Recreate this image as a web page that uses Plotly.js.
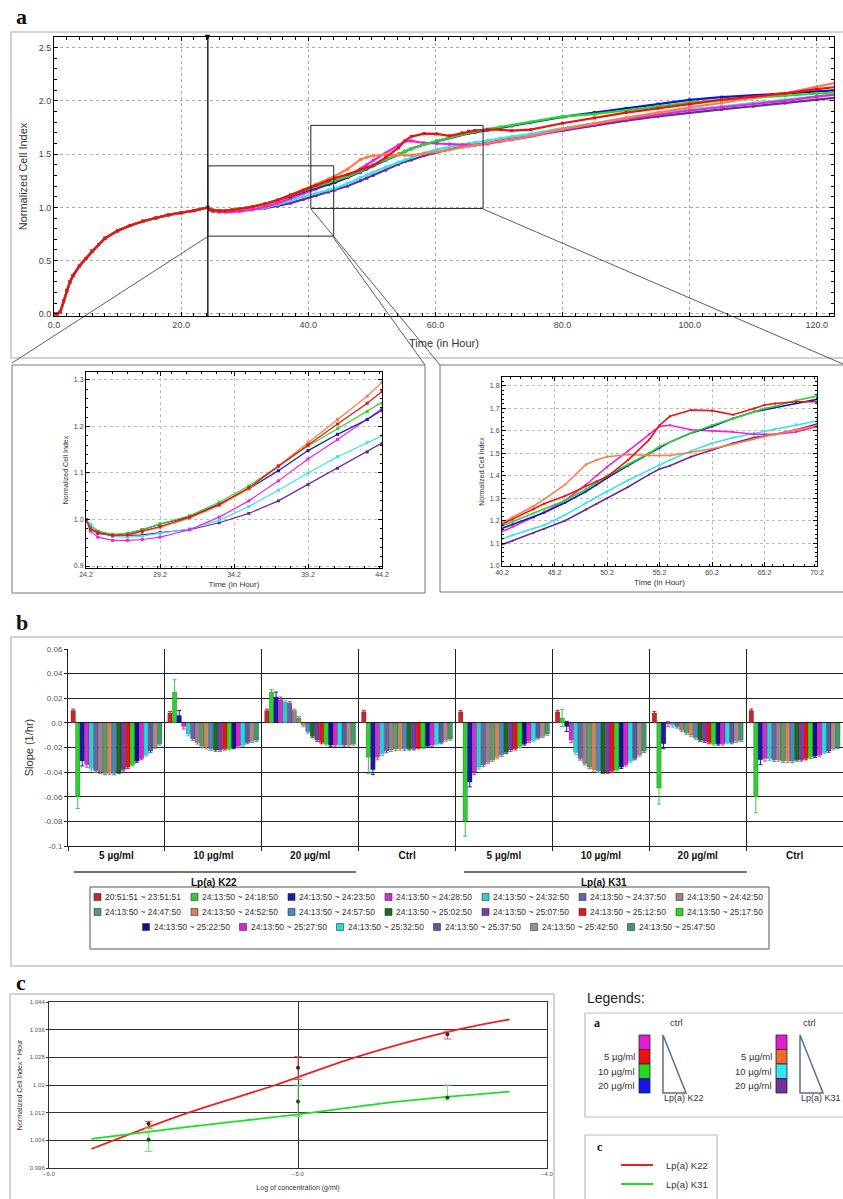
<!DOCTYPE html>
<html><head><meta charset="utf-8">
<script src="https://cdn.plot.ly/plotly-3.0.1.min.js"></script>
<style>html,body{margin:0;padding:0;background:#fff;overflow:hidden}</style>
</head><body>
<div id="chart" style="width:843px;height:1199px"></div>
<script>
// ================= Panel a : normalized cell index =================
const preTime = [0, 0.5, 1, 1.5, 2, 2.5, 3, 4, 5, 6, 7, 8, 10, 12, 14, 16, 18, 20, 22, 24.2];
const preCI   = [0, 0, 0.02, 0.12, 0.22, 0.30, 0.36, 0.45, 0.52, 0.59, 0.65, 0.71, 0.78, 0.83, 0.87, 0.90, 0.93, 0.95, 0.97, 1.0];
const postTime = [24.5, 25, 26, 27, 28, 29.2, 31.2, 33.2, 35.2, 37.2, 39.2, 41.2, 43.2, 44.2, 46.2, 48.2, 49.2, 50.2, 52.2, 54.2, 55.2, 56.2, 58.2, 60.2, 62.2, 64.2, 65.2, 66.2, 68.2, 70.2, 72, 75, 80, 85, 90, 95, 100, 105, 110, 115, 120, 123];
const ciK22_5  = [0.98, 0.972, 0.966, 0.967, 0.975, 0.985, 1.005, 1.032, 1.068, 1.115, 1.16, 1.205, 1.25, 1.275, 1.31, 1.355, 1.375, 1.395, 1.47, 1.56, 1.625, 1.665, 1.693, 1.69, 1.672, 1.70, 1.715, 1.722, 1.73, 1.73, 1.72, 1.73, 1.79, 1.84, 1.89, 1.93, 1.97, 2.01, 2.04, 2.07, 2.11, 2.13];
const ciK31_5  = [0.98, 0.972, 0.966, 0.967, 0.974, 0.983, 1.003, 1.03, 1.066, 1.115, 1.165, 1.215, 1.265, 1.295, 1.36, 1.45, 1.47, 1.485, 1.495, 1.49, 1.49, 1.49, 1.505, 1.52, 1.54, 1.565, 1.575, 1.585, 1.605, 1.625, 1.64, 1.67, 1.735, 1.79, 1.84, 1.89, 1.94, 1.98, 2.03, 2.07, 2.13, 2.17];
const ciK22_10 = [0.985, 0.975, 0.968, 0.97, 0.978, 0.99, 1.008, 1.037, 1.072, 1.115, 1.158, 1.195, 1.232, 1.25, 1.29, 1.34, 1.37, 1.40, 1.45, 1.50, 1.53, 1.55, 1.59, 1.625, 1.655, 1.685, 1.70, 1.71, 1.735, 1.755, 1.77, 1.80, 1.855, 1.875, 1.91, 1.95, 1.985, 2.01, 2.03, 2.05, 2.07, 2.08];
const ciK22_20 = [0.98, 0.972, 0.966, 0.97, 0.978, 0.99, 1.006, 1.033, 1.066, 1.105, 1.148, 1.183, 1.215, 1.235, 1.28, 1.33, 1.36, 1.39, 1.445, 1.50, 1.525, 1.55, 1.59, 1.62, 1.655, 1.685, 1.695, 1.705, 1.725, 1.745, 1.765, 1.795, 1.85, 1.89, 1.93, 1.97, 2.01, 2.035, 2.05, 2.07, 2.09, 2.10];
const ciCtrl   = [0.975, 0.962, 0.955, 0.955, 0.957, 0.962, 0.978, 1.005, 1.04, 1.083, 1.13, 1.172, 1.215, 1.238, 1.29, 1.36, 1.40, 1.44, 1.51, 1.585, 1.62, 1.625, 1.605, 1.60, 1.595, 1.585, 1.585, 1.585, 1.595, 1.62, 1.635, 1.665, 1.73, 1.78, 1.83, 1.87, 1.91, 1.94, 1.97, 2.00, 2.04, 2.06];
const ciK31_10 = [0.99, 0.975, 0.963, 0.962, 0.964, 0.970, 0.98, 0.998, 1.028, 1.063, 1.10, 1.135, 1.165, 1.18, 1.225, 1.28, 1.305, 1.33, 1.38, 1.425, 1.448, 1.47, 1.51, 1.545, 1.57, 1.59, 1.60, 1.61, 1.63, 1.65, 1.665, 1.69, 1.745, 1.79, 1.84, 1.88, 1.92, 1.95, 1.98, 2.01, 2.04, 2.06];
const ciK31_20 = [0.98, 0.97, 0.965, 0.966, 0.967, 0.972, 0.978, 0.993, 1.013, 1.04, 1.075, 1.11, 1.145, 1.163, 1.20, 1.25, 1.275, 1.30, 1.35, 1.405, 1.43, 1.445, 1.485, 1.515, 1.545, 1.57, 1.578, 1.585, 1.605, 1.63, 1.645, 1.67, 1.72, 1.77, 1.815, 1.855, 1.89, 1.92, 1.95, 1.98, 2.01, 2.03];
const ciSeries = [
  {name:'Lp(a) K31 20 µg/ml', y:ciK31_20, color:'#6a2a9a'},
  {name:'Lp(a) K31 10 µg/ml', y:ciK31_10, color:'#33e6ee'},
  {name:'ctrl',               y:ciCtrl,   color:'#ee22dd'},
  {name:'Lp(a) K22 20 µg/ml', y:ciK22_20, color:'#1515cc'},
  {name:'Lp(a) K22 10 µg/ml', y:ciK22_10, color:'#22dd22'},
  {name:'Lp(a) K31 5 µg/ml',  y:ciK31_5,  color:'#ff7a45'},
  {name:'Lp(a) K22 5 µg/ml',  y:ciK22_5,  color:'#ee1111'}
];
const zoomBox1 = {x0:24.2, x1:44.0, y0:0.73, y1:1.39};
const zoomBox2 = {x0:40.4, x1:67.5, y0:0.99, y1:1.77};

// ================= Panel b : slopes =================
const groupIds    = ['K22 5', 'K22 10', 'K22 20', 'K22 Ctrl', 'K31 5', 'K31 10', 'K31 20', 'K31 Ctrl'];
const groupLabels = ['5 µg/ml', '10 µg/ml', '20 µg/ml', 'Ctrl', '5 µg/ml', '10 µg/ml', '20 µg/ml', 'Ctrl'];
const slopeK22_5    = [0.010, -0.060, -0.031, -0.034, -0.037, -0.039, -0.040, -0.041, -0.041, -0.041, -0.040, -0.038, -0.036, -0.034, -0.031, -0.029, -0.026, -0.023, -0.020, -0.017];
const slopeK22_10   = [0.008, 0.025, 0.006, -0.003, -0.009, -0.013, -0.016, -0.019, -0.020, -0.021, -0.022, -0.022, -0.021, -0.021, -0.020, -0.019, -0.018, -0.016, -0.015, -0.014];
const slopeK22_20   = [0.010, 0.025, 0.021, 0.019, 0.017, 0.016, 0.010, 0.004, -0.002, -0.007, -0.011, -0.014, -0.016, -0.017, -0.018, -0.018, -0.018, -0.018, -0.018, -0.017];
const slopeK22_ctrl = [0.009, -0.028, -0.038, -0.028, -0.025, -0.023, -0.022, -0.021, -0.021, -0.021, -0.021, -0.021, -0.020, -0.020, -0.019, -0.018, -0.017, -0.016, -0.014, -0.013];
const slopeK31_5    = [0.009, -0.080, -0.048, -0.040, -0.036, -0.034, -0.032, -0.030, -0.028, -0.026, -0.024, -0.022, -0.021, -0.019, -0.017, -0.015, -0.014, -0.012, -0.011, -0.009];
const slopeK31_10   = [0.009, 0.004, -0.003, -0.014, -0.024, -0.029, -0.033, -0.036, -0.038, -0.039, -0.040, -0.040, -0.039, -0.038, -0.036, -0.034, -0.031, -0.029, -0.026, -0.023];
const slopeK31_20   = [0.008, -0.053, -0.017, -0.001, -0.002, -0.003, -0.006, -0.008, -0.010, -0.012, -0.014, -0.015, -0.016, -0.017, -0.017, -0.017, -0.016, -0.016, -0.015, -0.014];
const slopeK31_ctrl = [0.010, -0.060, -0.030, -0.029, -0.029, -0.030, -0.030, -0.031, -0.031, -0.031, -0.030, -0.030, -0.029, -0.028, -0.027, -0.026, -0.024, -0.023, -0.021, -0.020];
const slopeGroups = [slopeK22_5, slopeK22_10, slopeK22_20, slopeK22_ctrl, slopeK31_5, slopeK31_10, slopeK31_20, slopeK31_ctrl];
const seriesNames = ['20:51:51 ~ 23:51:51', '24:13:50 ~ 24:18:50', '24:13:50 ~ 24:23:50', '24:13:50 ~ 24:28:50', '24:13:50 ~ 24:32:50',
  '24:13:50 ~ 24:37:50', '24:13:50 ~ 24:42:50', '24:13:50 ~ 24:47:50', '24:13:50 ~ 24:52:50', '24:13:50 ~ 24:57:50',
  '24:13:50 ~ 25:02:50', '24:13:50 ~ 25:07:50', '24:13:50 ~ 25:12:50', '24:13:50 ~ 25:17:50', '24:13:50 ~ 25:22:50',
  '24:13:50 ~ 25:27:50', '24:13:50 ~ 25:32:50', '24:13:50 ~ 25:37:50', '24:13:50 ~ 25:42:50', '24:13:50 ~ 25:47:50'];
const seriesColors = ['#c0282d', '#33cc33', '#1a1aa6', '#cc33cc', '#33cccc', '#6666aa', '#a08080', '#5a9a6e', '#d08858', '#4a86c8',
  '#1d6b1d', '#7a3aa8', '#e8141c', '#22dd22', '#101090', '#dd22cc', '#22dddd', '#5a5aa0', '#b08888', '#3f9a6a'];
const errGreen  = [0.0095, 0.010, 0.002, 0.013, 0.012, 0.007, 0.013, 0.013];
const errSeries = [0.0012, 0, 0.004, 0.002, 0.0015, 0.0012, 0.0012, 0.0012, 0.0012, 0.0012, 0.001, 0.001, 0.001, 0.001, 0.001, 0.001, 0.001, 0.001, 0.001, 0.001];
const slopeTicks = [0.06, 0.04, 0.02, 0.0, -0.02, -0.04, -0.06, -0.08, -0.1];
const slopeTickText = ['0.06', '0.04', '0.02', '0.0', '-0.02', '-0.04', '-0.06', '-0.08', '-0.1'];

// ================= Panel c : dose response =================
const fitK22X = [-5.83, -5.44, -5.09, -4.77, -4.36, -4.15];
const fitK22Y = [1.0015, 1.012, 1.020, 1.028, 1.036, 1.039];
const fitK31X = [-5.83, -5.45, -5.0, -4.6, -4.15];
const fitK31Y = [1.0044, 1.0078, 1.0115, 1.0152, 1.0181];
const logConc = [-5.6, -5.0, -4.4];
const ptK22   = [1.0088, 1.025, 1.0347];
const errK22p = [0.0007, 0.0032, 0.0009];
const errK22m = [0.0013, 0.0034, 0.0014];
const ptK31   = [1.0042, 1.0152, 1.0164];
const errK31p = [0.0033, 0.0048, 0.0036];
const errK31m = [0.0034, 0.0043, 0.0007];
const cTicks = [0.996, 1.004, 1.012, 1.02, 1.028, 1.036, 1.044];
const cTickText = ['0.996', '1.004', '1.012', '1.02', '1.028', '1.036', '1.044'];

// ================= helpers =================
const W = 843, H = 1199;
const fx = p => p / W, fy = p => 1 - p / H;
const SANS = 'Liberation Sans, Arial, sans-serif';
const SERIF = 'Liberation Serif, Times New Roman, serif';

const traces = [];
const allTime = preTime.concat(postTime);
[['x','y',2.2,3],['x2','y2',1.2,3],['x3','y3',1.6,2]].forEach(([xa,ya,lw,ms]) => {
  ciSeries.forEach(s => {
    traces.push({type:'scatter', mode:'lines+markers', x: allTime, y: preCI.concat(s.y), xaxis:xa, yaxis:ya,
      name:s.name, line:{color:s.color, width:lw}, marker:{color:s.color, size:ms, symbol:'square'}, showlegend:false});
  });
});

for (let s = 0; s < seriesNames.length; s++) {
  traces.push({type:'bar', x: groupIds, y: slopeGroups.map(g => g[s]), xaxis:'x4', yaxis:'y4', name: seriesNames[s],
    marker:{color: seriesColors[s], line:{width:0.4, color:'rgba(0,0,0,0.45)'}},
    error_y:{type:'data', array: s === 1 ? errGreen : groupIds.map(() => errSeries[s]), color: seriesColors[s], thickness:1, width:2},
    showlegend:false});
}

traces.push({type:'scatter', mode:'lines', x:fitK22X, y:fitK22Y, xaxis:'x5', yaxis:'y5', line:{color:'#ee2020', width:1.8, shape:'spline'}, name:'Lp(a) K22'});
traces.push({type:'scatter', mode:'lines', x:fitK31X, y:fitK31Y, xaxis:'x5', yaxis:'y5', line:{color:'#22dd22', width:1.8, shape:'spline'}, name:'Lp(a) K31'});
traces.push({type:'scatter', mode:'markers', x:logConc, y:ptK22, xaxis:'x5', yaxis:'y5', marker:{color:'#442222', size:4},
  error_y:{type:'data', symmetric:false, array:errK22p, arrayminus:errK22m, color:'#ee5050', thickness:1, width:4}, name:'K22 points'});
traces.push({type:'scatter', mode:'markers', x:logConc, y:ptK31, xaxis:'x5', yaxis:'y5', marker:{color:'#224422', size:4},
  error_y:{type:'data', symmetric:false, array:errK31p, arrayminus:errK31m, color:'#66ee66', thickness:1, width:4}, name:'K31 points'});

function frameAxis(o) {
  return Object.assign({showline:true, linecolor:'#000', linewidth:1, mirror:'allticks', ticks:'inside', ticklen:4, tickcolor:'#000',
    showgrid:true, gridcolor:'#aaa', griddash:'dot', zeroline:false, tickfont:{family:SANS, size:9, color:'#444'}}, o);
}
const ttl = (t, size, standoff) => ({text:t, font:{family:SANS, size:size, color:'#333'}, standoff:standoff});

const layout = {
  width:W, height:H, margin:{l:0, r:0, t:0, b:0}, paper_bgcolor:'#fff', plot_bgcolor:'#fff', showlegend:false,
  barmode:'group', bargap:0.06, bargroupgap:0,
  xaxis: frameAxis({domain:[fx(54), fx(834)], range:[0, 122.7], anchor:'y', tick0:0, dtick:20, tickformat:'.1f',
    minor:{dtick:2, ticks:'inside', ticklen:3, tickcolor:'#000'}, title:ttl('Time (in Hour)', 11, 10)}),
  yaxis: frameAxis({domain:[fy(316), fy(37)], range:[-0.02, 2.6], anchor:'x', tick0:0, dtick:0.5, tickformat:'.1f',
    minor:{dtick:0.1, ticks:'inside', ticklen:3, tickcolor:'#000'}, title:ttl('Normalized Cell Index', 11, 8)}),
  xaxis2: frameAxis({domain:[fx(86), fx(382)], range:[24.2, 44.2], anchor:'y2', tick0:24.2, dtick:5, tickformat:'.1f', gridcolor:'#bbb',
    tickfont:{family:SANS, size:7, color:'#444'}, minor:{dtick:1, ticks:'inside', ticklen:2, tickcolor:'#000'}, title:ttl('Time (in Hour)', 8, 3)}),
  yaxis2: frameAxis({domain:[fy(568), fy(372)], range:[0.8957, 1.317], anchor:'x2', tick0:0.9, dtick:0.1, tickformat:'.1f', gridcolor:'#bbb',
    tickfont:{family:SANS, size:7, color:'#444'}, minor:{dtick:0.02, ticks:'inside', ticklen:2, tickcolor:'#000'}, title:ttl('Normalized Cell Index', 7, 4)}),
  xaxis3: frameAxis({domain:[fx(502), fx(817)], range:[40.2, 70.2], anchor:'y3', tick0:40.2, dtick:5, tickformat:'.1f', gridcolor:'#bbb',
    tickfont:{family:SANS, size:7, color:'#444'}, minor:{dtick:1, ticks:'inside', ticklen:2, tickcolor:'#000'}, title:ttl('Time (in Hour)', 8, 3)}),
  yaxis3: frameAxis({domain:[fy(566), fy(377)], range:[0.998, 1.84], anchor:'x3', tick0:1.0, dtick:0.1, tickformat:'.1f', gridcolor:'#bbb',
    tickfont:{family:SANS, size:7, color:'#444'}, minor:{dtick:0.02, ticks:'inside', ticklen:2, tickcolor:'#000'}, title:ttl('Normalized Cell Index', 7, 4)}),
  xaxis4: {domain:[fx(68), 1], anchor:'y4', type:'category', tickmode:'array', tickvals:groupIds, ticktext:groupLabels,
    tickson:'boundaries', ticks:'outside', ticklen:4, tickcolor:'#222', showgrid:true, gridcolor:'#222', gridwidth:1,
    showline:true, linecolor:'#222', zeroline:false, tickfont:{family:SANS, size:10, color:'#111', weight:'bold'}},
  yaxis4: {domain:[fy(846), fy(649)], range:[-0.1, 0.06], anchor:'x4', tickmode:'array', tickvals:slopeTicks, ticktext:slopeTickText,
    ticks:'outside', ticklen:3, tickcolor:'#222', showgrid:true, gridcolor:'#222', gridwidth:1, showline:true, linecolor:'#222',
    zeroline:true, zerolinecolor:'#222', zerolinewidth:1, tickfont:{family:SANS, size:8, color:'#555'}, title:ttl('Slope (1/hr)', 11, 8)},
  xaxis5: {domain:[fx(49), fx(547)], range:[-6, -4], anchor:'y5', tick0:-6, dtick:1, tickformat:'.1f', ticks:'', showgrid:true,
    gridcolor:'#333', showline:true, linecolor:'#333', mirror:true, zeroline:false, tickfont:{family:SANS, size:6, color:'#555'},
    title:ttl('Log of concentration (g/ml)', 7, 8)},
  yaxis5: {domain:[fy(1168), fy(1002)], range:[0.996, 1.044], anchor:'x5', tickmode:'array', tickvals:cTicks, ticktext:cTickText,
    ticks:'outside', ticklen:2, tickcolor:'#333', showgrid:true, gridcolor:'#333', showline:true, linecolor:'#333', mirror:true,
    zeroline:false, tickfont:{family:SANS, size:6, color:'#555'}, title:ttl('Normalized Cell Index * Hour', 7, 6)},
  shapes: [], annotations: []
};

const P = (x, y) => [fx(x), fy(y)];
function rectPx(x0, y0, x1, y1, color, width, fill) {
  layout.shapes.push({type:'rect', xref:'paper', yref:'paper', x0:fx(x0), x1:fx(x1), y0:fy(y1), y1:fy(y0),
    line:{color:color, width:width}, fillcolor:fill || 'rgba(0,0,0,0)', layer:'above'});
}
function linePx(x0, y0, x1, y1, color, width) {
  layout.shapes.push({type:'line', xref:'paper', yref:'paper', x0:fx(x0), y0:fy(y0), x1:fx(x1), y1:fy(y1),
    line:{color:color, width:width}, layer:'above'});
}
function ann(text, x, y, o) {
  layout.annotations.push(Object.assign({xref:'paper', yref:'paper', x:fx(x), y:fy(y), text:text, showarrow:false,
    xanchor:'center', yanchor:'middle', font:{family:SANS, size:10, color:'#222'}}, o || {}));
}

// panel frames
rectPx(11, 32, 848, 358, '#c4c4c4', 1.5);
rectPx(12, 365, 425, 593, '#777', 1);
rectPx(440, 365, 848, 592, '#777', 1);
rectPx(11, 637, 848, 966, '#c4c4c4', 1.5);
rectPx(10, 994, 554, 1210, '#c4c4c4', 1.5);

// panel a decorations
layout.shapes.push({type:'line', xref:'x', yref:'y domain', x0:24.2, x1:24.2, y0:0, y1:1, line:{color:'#000', width:1.3}, layer:'above'});
[zoomBox1, zoomBox2].forEach(b => layout.shapes.push({type:'rect', xref:'x', yref:'y', x0:b.x0, x1:b.x1, y0:b.y0, y1:b.y1,
  line:{color:'#222', width:1}, layer:'above'}));
linePx(207, 237, 12, 363, '#333', 0.8);
linePx(333, 237, 425, 365, '#333', 0.8);
linePx(311, 209, 440, 365, '#333', 0.8);
linePx(483, 209, 843, 364, '#333', 0.8);
layout.annotations.push({xref:'x', yref:'y domain', x:24.2, y:1, text:'▼', showarrow:false, yanchor:'middle', font:{size:9, color:'#000'}});

// panel labels
ann('a', 14, 16, {font:{family:SERIF, size:22, color:'#111', weight:'bold'}, xanchor:'left'});
ann('b', 14, 622, {font:{family:SERIF, size:22, color:'#111', weight:'bold'}, xanchor:'left'});
ann('c', 14, 982, {font:{family:SERIF, size:22, color:'#111', weight:'bold'}, xanchor:'left'});

// panel b group underlines and labels
linePx(74, 872, 356, 872, '#444', 1.5);
linePx(464, 872, 747, 872, '#444', 1.5);
ann('Lp(a) K22', 214, 882, {font:{family:SANS, size:10, color:'#111', weight:'bold'}});
ann('Lp(a) K31', 604, 882, {font:{family:SANS, size:10, color:'#111', weight:'bold'}});

// panel b legend (built from seriesNames / seriesColors)
rectPx(90, 887, 769, 949, '#555', 1);
const perRow = 7, entryW = 97, rowY = [897, 912, 927];
seriesNames.forEach((nm, i) => {
  const row = Math.floor(i / perRow), col = i % perRow;
  const inRow = row < 2 ? perRow : seriesNames.length - 2 * perRow;
  const x0 = 94 + (perRow - inRow) * entryW / 2 + col * entryW;
  const y = rowY[row];
  rectPx(x0, y - 3.5, x0 + 7, y + 3.5, '#333', 0.6, seriesColors[i]);
  ann(nm, x0 + 9, y, {xanchor:'left', font:{family:SANS, size:8.5, color:'#333'}});
});

// Legends box (right)
ann('Legends:', 585, 998, {xanchor:'left', font:{family:SANS, size:14, color:'#222'}});
rectPx(585, 1013, 848, 1117, '#bbb', 1.2);
ann('a', 592, 1023, {xanchor:'left', font:{family:SERIF, size:12, color:'#111', weight:'bold'}});
const legendBlocks = [
  {barX:639, triX:663, ctrlX:668, label:'Lp(a) K22', cols:['#e020d0', '#ee1111', '#22dd22', '#1515ee']},
  {barX:776, triX:800, ctrlX:801, label:'Lp(a) K31', cols:['#e020d0', '#f26b2b', '#33e6f0', '#7030a0']}
];
const legendConc = ['5 µg/ml', '10 µg/ml', '20 µg/ml'];
legendBlocks.forEach(b => {
  b.cols.forEach((c, k) => rectPx(b.barX, 1035 + k * 14.5, b.barX + 11, 1035 + (k + 1) * 14.5, '#222', 0.8, c));
  legendConc.forEach((t, k) => ann(t, b.barX - 2, 1035 + (k + 1.5) * 14.5, {xanchor:'right', font:{family:SANS, size:9.5, color:'#333'}}));
  const [ax, ay] = P(b.triX, 1035), [bx, by] = P(b.triX, 1093), [cx, cy] = P(b.triX + 23, 1093);
  layout.shapes.push({type:'path', xref:'paper', yref:'paper', path:`M${ax},${ay} L${bx},${by} L${cx},${cy} Z`, line:{color:'#5a6e8c', width:1.5}, layer:'above'});
  ann('ctrl', b.ctrlX, 1022, {xanchor:'left', font:{family:SANS, size:9.5, color:'#333'}});
  ann(b.label, b.triX - 1, 1098, {xanchor:'left', font:{family:SANS, size:9, color:'#333'}});
});
rectPx(585, 1135, 717, 1210, '#bbb', 1.2);
ann('c', 595, 1147, {xanchor:'left', font:{family:SERIF, size:12, color:'#111', weight:'bold'}});
linePx(621, 1165, 653, 1165, '#ee2020', 2);
linePx(621, 1184, 653, 1184, '#22dd22', 2);
ann('Lp(a) K22', 664, 1165, {xanchor:'left', font:{family:SANS, size:9.5, color:'#333'}});
ann('Lp(a) K31', 664, 1184, {xanchor:'left', font:{family:SANS, size:9.5, color:'#333'}});

Plotly.newPlot('chart', traces, layout, {staticPlot:true});
</script>
</body></html>
